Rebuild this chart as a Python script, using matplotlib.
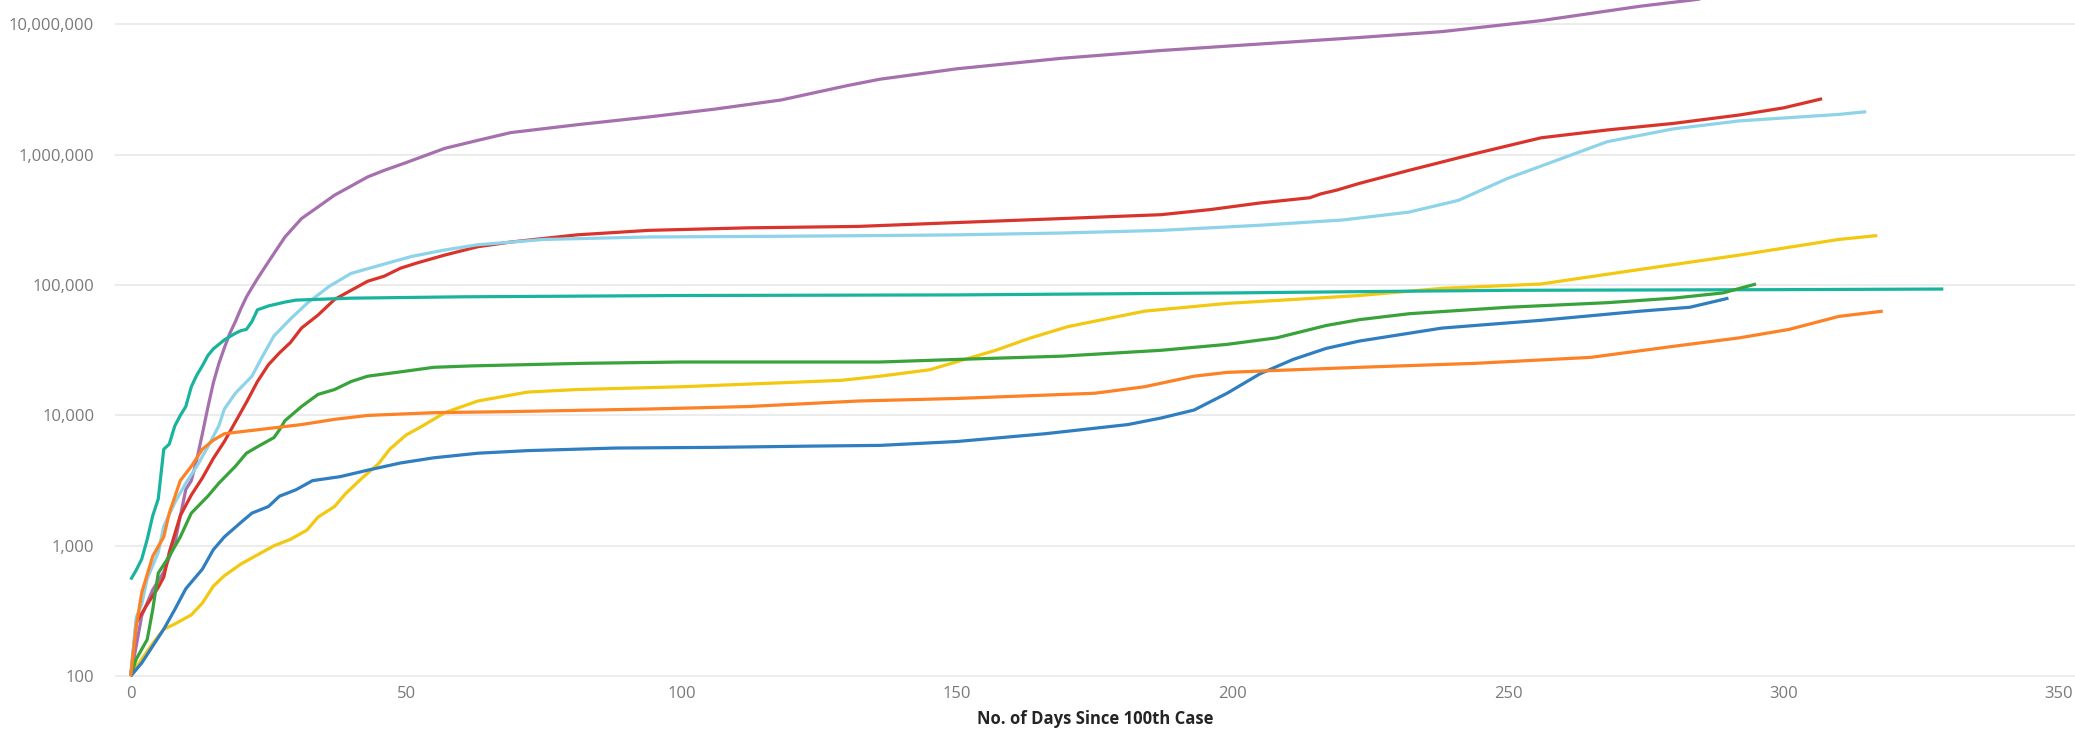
import matplotlib
matplotlib.use("Agg")
import matplotlib.pyplot as plt
from matplotlib.ticker import FuncFormatter, FixedLocator, NullLocator

# ---------------- data ----------------
purple_days = [0, 2, 4, 6, 8, 10, 11, 12, 13, 14, 15, 16, 17, 18, 19, 20, 21, 22, 23, 25, 28, 31, 34, 37, 40,
               43, 46, 50, 57, 63, 69, 81, 94, 106, 118, 130, 136, 150, 169, 187, 205, 223, 238, 256, 274, 284,
               300, 310]
purple_vals = [100, 290, 460, 630, 1050, 2700, 3160, 4600, 7200, 11500, 17800, 25000, 33000, 42700, 52500,
               66000, 81000, 95500, 112000, 151000, 234000, 324000, 398000, 490000, 575000, 676000, 759000,
               871000, 1120000, 1290000, 1480000, 1700000, 1950000, 2240000, 2630000, 3390000, 3800000,
               4570000, 5500000, 6310000, 7080000, 7940000, 8810000, 10700000, 13800000, 15500000, 19000000,
               21400000]

red_days = [0, 1, 3, 5, 6, 7, 9, 11, 13, 15, 17, 19, 21, 23, 25, 27, 29, 31, 34, 37, 40, 43, 46, 49, 52, 57,
            63, 69, 81, 94, 112, 132, 150, 169, 187, 196, 205, 214, 216, 219, 223, 232, 244, 256, 268, 280,
            292, 300, 307]
red_vals = [100, 257, 355, 479, 575, 890, 1700, 2450, 3310, 4680, 6310, 8910, 12600, 18200, 24500, 30200,
            36300, 46800, 58900, 77600, 91200, 107000, 117000, 135000, 148000, 170000, 197000, 214000,
            243000, 263000, 275000, 282000, 302000, 324000, 347000, 380000, 427000, 468000, 501000, 537000,
            603000, 759000, 1020000, 1350000, 1550000, 1740000, 2020000, 2290000, 2690000]

lightblue_days = [0, 1, 2, 3, 5, 6, 8, 10, 12, 14, 16, 17, 19, 22, 24, 26, 29, 32, 36, 40, 45, 51, 57, 63,
                  75, 94, 118, 136, 150, 169, 187, 205, 220, 232, 241, 250, 259, 268, 280, 292, 310, 315]
lightblue_vals = [100, 282, 355, 560, 890, 1410, 2140, 3020, 4070, 5750, 8320, 11200, 14800, 20000, 28800,
                  40700, 55000, 72400, 97700, 123000, 141000, 166000, 186000, 204000, 224000, 234000, 237000,
                  240000, 243000, 251000, 263000, 288000, 316000, 363000, 447000, 661000, 912000, 1260000,
                  1580000, 1820000, 2040000, 2140000]

yellow_days = [0, 2, 4, 6, 8, 11, 13, 15, 17, 20, 23, 26, 29, 32, 34, 37, 39, 42, 45, 47, 50, 53, 57, 63,
               72, 81, 100, 118, 129, 136, 145, 157, 163, 170, 184, 199, 211, 223, 238, 256, 274, 292, 310, 317]
yellow_vals = [100, 135, 178, 229, 251, 295, 363, 490, 589, 724, 851, 1000, 1120, 1320, 1660, 2000, 2510,
               3310, 4270, 5500, 7080, 8320, 10500, 12900, 15100, 15800, 16600, 17800, 18600, 20000, 22400,
               31600, 38900, 47900, 63100, 72400, 77600, 83200, 94400, 102000, 132000, 170000, 224000, 240000]

teal_days = [0, 1, 2, 3, 4, 5, 6, 7, 8, 9, 10, 11, 12, 13, 14, 15, 17, 19, 20, 21, 22, 23, 25, 28, 30, 40,
             60, 100, 150, 200, 223, 250, 300, 329]
teal_vals = [550, 650, 790, 1120, 1700, 2290, 5500, 6030, 8300, 10000, 11700, 16600, 20400, 24000, 28800,
             32400, 38000, 42700, 44700, 45700, 52500, 64600, 69200, 74100, 76700, 79400, 81300, 83200,
             84100, 87100, 89100, 91200, 92300, 93300]

green_days = [0, 1, 3, 4, 5, 7, 9, 11, 14, 16, 19, 21, 23, 26, 27, 28, 31, 34, 37, 40, 43, 49, 55, 62, 82,
              100, 136, 150, 169, 187, 199, 208, 217, 223, 232, 250, 268, 280, 289, 295]
green_vals = [100, 135, 191, 324, 617, 832, 1170, 1780, 2400, 3020, 4070, 5130, 5750, 6760, 7760, 9120,
              11700, 14500, 15800, 18200, 20000, 21600, 23400, 24000, 25100, 25700, 25700, 26900, 28500,
              31600, 35100, 39400, 49000, 54300, 60300, 67600, 73300, 79400, 87100, 102000]

blue_days = [0, 2, 4, 6, 8, 10, 13, 15, 17, 20, 22, 25, 27, 30, 33, 38, 43, 49, 55, 63, 72, 88, 106, 124,
             136, 150, 166, 181, 187, 193, 199, 205, 211, 217, 223, 238, 256, 274, 283, 290]
blue_vals = [100, 126, 170, 229, 324, 468, 661, 933, 1170, 1510, 1780, 2000, 2400, 2690, 3160, 3390, 3800,
             4320, 4730, 5130, 5370, 5620, 5690, 5820, 5890, 6310, 7240, 8510, 9550, 11000, 14800, 20900,
             26900, 32700, 37200, 46800, 53700, 63100, 67600, 79400]

orange_days = [0, 1, 2, 4, 6, 7, 9, 11, 13, 15, 17, 20, 25, 31, 37, 43, 55, 69, 94, 112, 132, 150, 175,
               184, 193, 199, 211, 223, 244, 265, 280, 292, 301, 310, 318]
orange_vals = [100, 240, 437, 832, 1170, 1780, 3160, 4070, 5500, 6460, 7240, 7500, 7940, 8510, 9330, 10000,
               10500, 10700, 11200, 11700, 12900, 13500, 14800, 16600, 20000, 21400, 22400, 23400, 25100,
               27900, 33900, 39400, 45700, 57500, 63100]

x_ticks = [0, 50, 100, 150, 200, 250, 300, 350]
y_ticks = [100, 1000, 10000, 100000, 1000000, 10000000]
x_title = "No. of Days Since 100th Case"

# ---------------- figure ----------------
plt.rcParams['font.family'] = ['Open Sans', 'DejaVu Sans']
W, H = 2075, 731
fig = plt.figure(figsize=(W / 100, H / 100), dpi=100)
ax = fig.add_axes([115 / W, (H - 679) / H, (W - 115) / W, 679 / H])

series = [
    (purple_days, purple_vals, "#a66fae"),
    (red_days, red_vals, "#d9342b"),
    (lightblue_days, lightblue_vals, "#8dd3ea"),
    (yellow_days, yellow_vals, "#f2c811"),
    (teal_days, teal_vals, "#19b49e"),
    (green_days, green_vals, "#37a33a"),
    (blue_days, blue_vals, "#2f7ebf"),
    (orange_days, orange_vals, "#fd8125"),
]
for d, v, c in series:
    ax.plot(d, v, color=c, lw=2.3, solid_joinstyle='round', solid_capstyle='butt', zorder=3)

ax.set_yscale('log')
ax.set_xlim(-2.85, 352.9)
ax.set_ylim(95, 15.4e6)
ax.yaxis.set_major_locator(FixedLocator(y_ticks))
ax.yaxis.set_minor_locator(NullLocator())
ax.xaxis.set_major_locator(FixedLocator(x_ticks))
ax.yaxis.set_major_formatter(FuncFormatter(lambda v, p: f"{int(round(v)):,}"))
ax.xaxis.set_major_formatter(FuncFormatter(lambda v, p: f"{int(v)}"))

ax.grid(axis='y', color='#ececec', lw=1.4, zorder=0)
ax.grid(axis='x', visible=False)
for s in ax.spines.values():
    s.set_visible(False)
ax.tick_params(axis='both', length=0, labelsize=12, labelcolor='#7a7a7a')
ax.tick_params(axis='y', pad=15)
ax.tick_params(axis='x', pad=5)

ax.set_xlabel(x_title, fontsize=12, fontweight='bold', color='#252423', labelpad=6)

fig.savefig("out.png", dpi=100, facecolor='white')
